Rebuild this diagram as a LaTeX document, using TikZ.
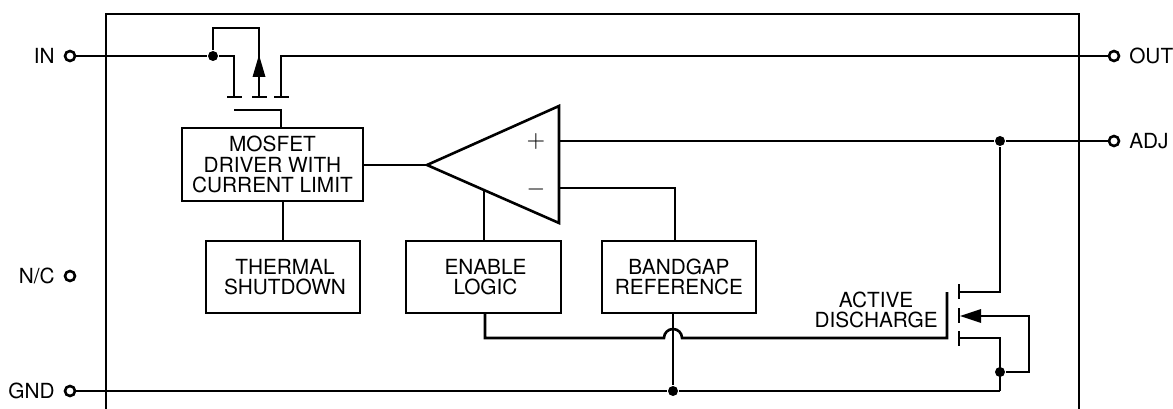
\documentclass[tikz,border=0pt]{standalone}
\usepackage{fontspec}
\setmainfont{TeX Gyre Heros}
\begin{document}
\begin{tikzpicture}[x=1pt, y=-1pt, line width=2.6pt]
\tikzset{
  tinoeud/.style={draw, circle, inner sep=0pt, minimum size=10pt, line width=2.6pt},
  point/.style={fill, circle, inner sep=0pt, minimum size=10pt},
  bloc/.style={draw, inner sep=0pt, align=center, font=\fontsize{20.8}{20.4}\selectfont},
  texte/.style={inner sep=0pt, align=center, font=\fontsize{20.8}{20.4}\selectfont},
  signe/.style={inner sep=0pt, scale=2.4}
}
\useasboundingbox (0,0) rectangle (1173,409);
% boitier
\draw (106,409) -- (106,14) -- (1079,14) -- (1079,409);
% bornes
\node[tinoeud] (IN) at (70,56) {};
\node[tinoeud] (OUT) at (1114,56) {};
\node[tinoeud] (ADJ) at (1114,141) {};
\node[tinoeud] (NC) at (70,276) {};
\node[tinoeud] (GND) at (70,391) {};
\node[texte, anchor=east] (LIN) at (56,56) {IN};
\node[texte, anchor=west] (LOUT) at (1128,56) {OUT};
\node[texte, anchor=west] (LADJ) at (1128,141) {ADJ};
\node[texte, anchor=east] (LNC) at (56,276) {N/C};
\node[texte, anchor=east] (LGND) at (56,391) {GND};
% blocs
\node[bloc, minimum width=181pt, minimum height=73pt] (DRV) at (272.5,164.5) {MOSFET\\DRIVER WITH\\CURRENT LIMIT};
\node[bloc, minimum width=154pt, minimum height=72pt] (TH) at (283,277) {\hspace*{4pt}THERMAL\\\hspace*{4pt}SHUTDOWN};
\node[bloc, minimum width=155pt, minimum height=72pt] (EN) at (483.5,277) {\hspace*{4pt}ENABLE\\\hspace*{4pt}LOGIC};
\node[bloc, minimum width=154pt, minimum height=72pt] (BG) at (679,277) {BANDGAP\\REFERENCE};
\node[texte, anchor=east] (AD) at (939,310) {ACTIVE\\DISCHARGE};
% ampli
\coordinate (AT) at (427,165);
\coordinate (AH) at (559,106);
\coordinate (AB) at (559,223);
\draw (AT) -- (AH) -- (AB) -- cycle;
\coordinate (AP) at (559,141);
\coordinate (AM) at (559,188);
\coordinate (AE) at (484,190);
\coordinate (AS) at (675,188);
\node[signe] (PLUS) at (536,142) {$+$};
\node[signe] (MOINS) at (536,189) {$-$};
% mosfet du haut
\node[point] (D1) at (213,56) {};
\coordinate (S1) at (234,56);
\coordinate (S2) at (234,97);
\coordinate (B1) at (213,28);
\coordinate (B2) at (259,28);
\coordinate (B3) at (259,97);
\coordinate (R1) at (281,97);
\coordinate (R2) at (281,56);
\coordinate (G1) at (234,110);
\coordinate (G2) at (281,110);
\draw (IN) -- (D1) -- (S1) -- (S2);
\draw (D1) -- (B1) -- (B2) -- (B3);
\draw (OUT) -- (R2) -- (R1);
\draw (G1) -- (G2) -- (G2 |- DRV.north);
\draw (227,97) -- (242,97);
\draw (252,97) -- (267,97);
\draw (274,97) -- (289,97);
\fill (259,55) -- (252.5,77) -- (265.5,77) -- cycle;
% liaisons
\draw (DRV.east |- AT) -- (AT);
\draw (DRV.south -| TH.north) -- (TH.north);
\draw (AE) -- (AE |- EN.north);
\draw (AM) -- (AS) -- (AS |- BG.north);
% mosfet du bas
\node[point] (D2) at (1000,141) {};
\node[point] (D3) at (1000,372) {};
\node[point] (D4) at (673,391) {};
\coordinate (H1) at (959,292);
\coordinate (H2) at (1000,292);
\coordinate (L1) at (959,338);
\coordinate (L2) at (1000,338);
\coordinate (L3) at (1000,391);
\coordinate (M1) at (981,316);
\coordinate (M2) at (1029,316);
\coordinate (M3) at (1029,372);
\coordinate (K1) at (947,292);
\coordinate (K2) at (947,338);
\coordinate (C1) at (664,338);
\draw (AP) -- (D2) -- (ADJ);
\draw (D2) -- (H2) -- (H1);
\draw (L1) -- (L2) -- (L3);
\draw (GND) -- (D4) -- (L3);
\draw (D3) -- (M3) -- (M2) -- (M1);
\draw (D4 |- BG.south) -- (D4);
\draw (485,313) -- (485,338) -- (C1) arc[start angle=180, end angle=360, radius=9] -- (K2) -- (K1);
\draw (959,284) -- (959,299);
\draw (959,308) -- (959,323);
\draw (959,331) -- (959,346);
\fill (960,316) -- (981,309) -- (981,323) -- cycle;
\end{tikzpicture}
\end{document}
